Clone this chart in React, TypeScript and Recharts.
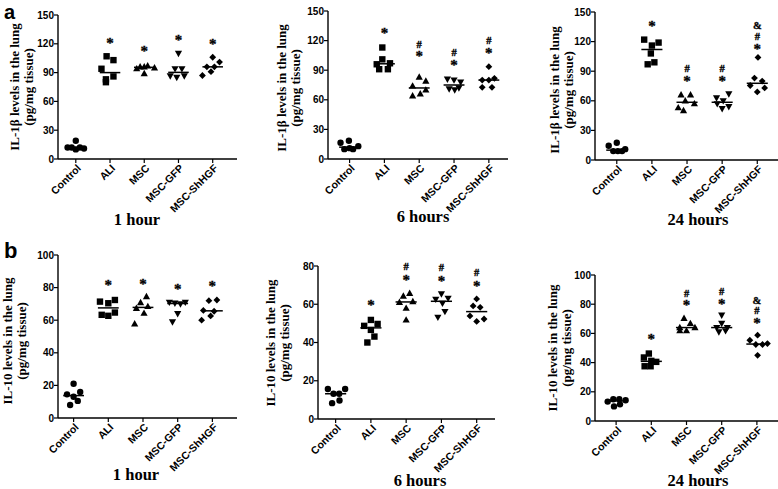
import React from "react";
import { ScatterChart, Scatter, XAxis, YAxis, ReferenceLine } from "recharts";

// ── data ─────────────────────────────────────────────────────────────

const groups = ["Control", "ALI", "MSC", "MSC-GFP", "MSC-ShHGF"];
const markers = ["circle", "square", "triangle", "triangleDown", "diamond"];

const il1bTicks = [0, 30, 60, 90, 120, 150];
const il10Ticks1h = [0, 20, 40, 60, 80, 100];
const il10Ticks6h = [0, 20, 40, 60, 80];
const il10Ticks24h = [0, 20, 40, 60, 80, 100];

// IL-1β (pg/mg tissue), 6 animals per group; dx = horizontal spread inside a group
const il1b1h = [
  [19, 12, 12, 10, 12, 11],
  [107, 103, 94, 86, 83, 80],
  [97, 96, 96, 95, 94, 89],
  [110, 94, 94, 86.5, 85, 86.5],
  [106, 101, 96, 96, 91, 87],
];
const il1b1hDx = [
  [0, -0.24, -0.12, 0, 0.12, 0.24],
  [-0.1, 0.1, -0.25, 0.1, -0.12, -0.12],
  [0.1, -0.12, 0, 0.3, -0.22, 0],
  [0, -0.1, 0.1, -0.24, -0.05, 0.17],
  [0, 0.2, -0.17, 0.05, -0.05, -0.3],
];
const il1b1hSig = [[1, 123, "*"], [2, 115, "*"], [3, 126, "*"], [4, 122, "*"]];

const il1b6h = [
  [16.5, 18.5, 10, 10, 13, 11],
  [113, 101, 96, 97, 91, 91],
  [83, 79, 74, 70, 66, 64],
  [81, 80, 78, 71, 72, 70],
  [93.6, 80, 80, 81.8, 72.6, 72.6],
];
const il1b6hDx = [
  [-0.26, -0.02, -0.15, 0.1, 0.25, 0],
  [-0.06, -0.06, -0.22, 0.16, -0.15, 0.1],
  [0, 0.19, -0.19, 0.19, 0.03, -0.19],
  [-0.19, 0, 0.19, -0.14, 0.14, 0.02],
  [0, -0.19, 0, 0.16, -0.19, 0.09],
];
const il1b6hSig = [
  [1, 130, "*"],
  [2, 117, "#"], [2, 106, "*"],
  [3, 108, "#"], [3, 97, "*"],
  [4, 121, "#"], [4, 109, "*"],
];

const il1b24h = [
  [14.5, 17.5, 9, 9, 9, 11],
  [122, 116, 119, 108, 97, 99],
  [66, 66, 60, 57, 53, 50],
  [63, 67, 60, 57, 52, 54],
  [104, 83, 80, 75.5, 73, 69],
];
const il1b24hDx = [
  [-0.23, 0, -0.1, 0.03, 0.15, 0.24],
  [-0.22, 0, 0.19, -0.03, -0.12, 0.07],
  [-0.17, 0.1, -0.05, 0.21, -0.25, -0.1],
  [-0.16, 0.19, 0.03, -0.14, 0, 0.19],
  [0.02, -0.08, 0.14, -0.2, 0.21, 0],
];
const il1b24hSig = [
  [1, 138, "*"],
  [2, 93, "#"], [2, 82, "*"],
  [3, 93, "#"], [3, 82, "*"],
  [4, 137, "&"], [4, 126, "#"], [4, 115, "*"],
];

// IL-10 (pg/mg tissue)
const il101h = [
  [21, 14.5, 16, 13, 10.5, 8],
  [71.4, 70.4, 72.4, 63.3, 62.7, 64.7],
  [74.5, 70.8, 68.4, 67.3, 64.3, 57.8],
  [71, 70.5, 70, 71, 64, 59],
  [72, 72.4, 66, 65.5, 62.6, 60],
];
const il101hDx = [
  [0, -0.19, 0.19, 0, 0.12, -0.1],
  [-0.24, 0, 0.19, -0.19, 0, 0.19],
  [0.1, -0.07, 0.14, -0.19, 0.03, -0.24],
  [-0.24, -0.08, 0.08, 0.22, 0, -0.15],
  [-0.1, 0.13, -0.26, 0.05, -0.05, -0.31],
];
const il101hSig = [[1, 83, "*"], [2, 83.7, "*"], [3, 80.6, "*"], [4, 82.2, "*"]];

const il106h = [
  [15.7, 15.7, 13.2, 13.2, 8.3, 9.7],
  [51.8, 49.7, 48.7, 46.6, 43.1, 40],
  [65.7, 64.3, 61, 61.4, 57.9, 51.8],
  [65.4, 62.6, 63.1, 60.5, 56.2, 53.2],
  [62.8, 59.1, 58.4, 53.9, 52.3, 51],
];
const il106hDx = [
  [-0.22, 0.27, -0.06, 0.1, -0.1, 0.11],
  [0, 0.19, -0.19, 0, 0.1, -0.1],
  [0.1, -0.08, -0.19, 0.19, 0, 0],
  [0, -0.16, 0.19, 0.03, 0.1, -0.1],
  [0, -0.1, 0.1, -0.19, 0.21, 0],
];
const il106hSig = [
  [1, 60.5, "*"],
  [2, 80, "#"], [2, 73.9, "*"],
  [3, 79.3, "#"], [3, 73, "*"],
  [4, 76.7, "#"], [4, 70.6, "*"],
];

const il1024h = [
  [13.3, 14.9, 14.9, 14.2, 10, 11.4],
  [43.5, 46.2, 41.2, 40.5, 37.5, 37.5],
  [70.3, 64, 66.8, 61.8, 61.8, 64],
  [72.5, 66.8, 64, 64, 61, 61.8],
  [58.8, 55.3, 52.4, 52.4, 53, 45],
];
const il1024hDx = [
  [-0.24, -0.08, 0.09, 0.27, -0.06, 0.11],
  [-0.21, -0.07, 0, 0.14, -0.19, -0.02],
  [-0.07, -0.19, 0.11, -0.19, 0, 0.24],
  [0, 0, -0.14, 0.16, -0.08, 0.11],
  [0.02, -0.2, -0.03, 0.16, 0.3, 0.02],
];
const il1024hSig = [
  [1, 57.2, "*"],
  [2, 88, "#"], [2, 80.5, "*"],
  [3, 89, "#"], [3, 81.7, "*"],
  [4, 82.8, "&"], [4, 76, "#"], [4, 68.6, "*"],
];

// ── helpers ─────────────────────────────────────────────────────────

const SANS = '"Liberation Sans", Arial, sans-serif';
const SERIF = '"Liberation Serif", "Times New Roman", serif';

function median(arr: number[]): number {
  const s = [...arr].sort((a, b) => a - b);
  const m = Math.floor(s.length / 2);
  return s.length % 2 ? s[m] : (s[m - 1] + s[m]) / 2;
}

function markerShape(kind: string) {
  return (p: any) => {
    const { cx, cy } = p;
    if (cx == null || cy == null) return <g />;
    if (kind === "circle") return <circle cx={cx} cy={cy} r={3.2} style={{ fill: "#000" }} />;
    if (kind === "square")
      return <rect x={cx - 3.2} y={cy - 3.2} width={6.4} height={6.4} style={{ fill: "#000" }} />;
    if (kind === "triangle")
      return (
        <polygon
          points={`${cx},${cy - 3.8} ${cx + 3.6},${cy + 2.6} ${cx - 3.6},${cy + 2.6}`}
          style={{ fill: "#000" }}
        />
      );
    if (kind === "triangleDown")
      return (
        <polygon
          points={`${cx},${cy + 3.8} ${cx + 3.6},${cy - 2.6} ${cx - 3.6},${cy - 2.6}`}
          style={{ fill: "#000" }}
        />
      );
    return (
      <polygon
        points={`${cx},${cy - 3.4} ${cx + 3.4},${cy} ${cx},${cy + 3.4} ${cx - 3.4},${cy}`}
        style={{ fill: "#000" }}
      />
    );
  };
}

function sigShape(p: any) {
  const { cx, cy, payload } = p;
  if (cx == null || cy == null) return <g />;
  const star = payload.t === "*";
  return (
    <text
      x={cx}
      y={cy + (star ? 7 : 4)}
      textAnchor="middle"
      fontFamily={SERIF}
      fontSize={star ? 15 : 10.5}
      fontWeight={700}
      style={{ fill: "#000", stroke: "#000", strokeWidth: 0.35 }}
    >
      {payload.t}
    </text>
  );
}

function XTick(p: any) {
  const { x, y, payload } = p;
  return (
    <g transform={`translate(${x + 3},${y + 1})`}>
      <text
        x={0}
        y={0}
        dy={4}
        textAnchor="end"
        transform="rotate(-45)"
        fontFamily={SANS}
        fontWeight={700}
        fontSize={10.5}
        style={{ fill: "#000" }}
      >
        {groups[payload.value]}
      </text>
    </g>
  );
}

function YTick(p: any) {
  const { x, y, payload } = p;
  return (
    <text
      x={x + 2}
      y={y}
      dy={3.5}
      textAnchor="end"
      fontFamily={SANS}
      fontWeight={700}
      fontSize={10}
      style={{ fill: "#000" }}
    >
      {payload.value}
    </text>
  );
}

type PanelProps = {
  values: number[][];
  dx: number[][];
  sig: (number | string)[][];
  yTicks: number[];
  xDomain: [number, number];
  plot: { x0: number; x1: number; y0: number; y1: number };
  yLabel: string;
  yLabelAt: [number, number];
};

function Panel({ values, dx, sig, yTicks, xDomain, plot, yLabel, yLabelAt }: PanelProps) {
  const left = 50;
  const top = 20;
  const bottom = 70;
  const w = plot.x1 - plot.x0 + left + 2;
  const h = plot.y1 - plot.y0 + top + bottom;
  const sigData = sig.map((s) => ({ x: s[0] as number, y: s[1] as number, t: s[2] as string }));
  const axisLine = { stroke: "#000", strokeWidth: 1.4 };

  return (
    <>
      <div style={{ position: "absolute", left: plot.x0 - left, top: plot.y0 - top }}>
        <ScatterChart width={w} height={h} margin={{ top, right: 2, left: 0, bottom: 0 }}>
          <XAxis
            type="number"
            dataKey="x"
            domain={xDomain}
            ticks={[0, 1, 2, 3, 4]}
            interval={0}
            height={bottom}
            axisLine={axisLine}
            tickLine={{ stroke: "#000", strokeWidth: 1.2 }}
            tickSize={4}
            tick={<XTick />}
          />
          <YAxis
            type="number"
            dataKey="y"
            domain={[0, yTicks[yTicks.length - 1]]}
            ticks={yTicks}
            interval={0}
            width={left}
            axisLine={axisLine}
            tickLine={{ stroke: "#000", strokeWidth: 1.2 }}
            tickSize={4}
            tick={<YTick />}
          />
          {values.map((vals, g) => (
            <Scatter
              key={groups[g]}
              data={vals.map((v, i) => ({ x: g + dx[g][i], y: v }))}
              fill="#000"
              shape={markerShape(markers[g])}
              isAnimationActive={false}
            />
          ))}
          {values.map((vals, g) => (
            <ReferenceLine
              key={"m" + g}
              segment={[
                { x: g - 0.3, y: median(vals) },
                { x: g + 0.3, y: median(vals) },
              ]}
              stroke="#000"
              strokeWidth={1.5}
              ifOverflow="visible"
            />
          ))}
          <Scatter data={sigData} fill="#000" shape={sigShape} isAnimationActive={false} />
        </ScatterChart>
      </div>

      {/* y-axis title */}
      <div
        style={{
          position: "absolute",
          left: yLabelAt[0],
          top: yLabelAt[1],
          transform: "translate(-50%, -50%) rotate(-90deg)",
          whiteSpace: "nowrap",
          textAlign: "center",
          fontFamily: SERIF,
          fontWeight: 700,
          fontSize: 13,
          lineHeight: "14px",
        }}
      >
        <div>{yLabel}</div>
        <div>(pg/mg tissue)</div>
      </div>
    </>
  );
}

// time-point captions: [text, x, baseline]
const captions: [string, number, number][] = [
  ["1 hour", 137, 225],
  ["6 hours", 423, 222],
  ["24 hours", 698, 225],
  ["1 hour", 136, 480],
  ["6 hours", 420, 486],
  ["24 hours", 698, 486],
];

export default function App() {
  return (
    <div
      style={{
        position: "absolute",
        left: 0,
        top: 0,
        width: 778,
        height: 489,
        background: "#fff",
        overflow: "hidden",
      }}
    >
      <Panel
        values={il1b1h} dx={il1b1hDx} sig={il1b1hSig} yTicks={il1bTicks} xDomain={[-0.52, 4.71]}
        plot={{ x0: 58, x1: 237, y0: 15, y1: 159 }}
        yLabel="IL-1β levels in the lung" yLabelAt={[21.5, 87]}
      />
      <Panel
        values={il1b6h} dx={il1b6hDx} sig={il1b6hSig} yTicks={il1bTicks} xDomain={[-0.62, 4.55]}
        plot={{ x0: 328, x1: 508, y0: 11, y1: 159 }}
        yLabel="IL-1β levels in the lung" yLabelAt={[289, 88]}
      />
      <Panel
        values={il1b24h} dx={il1b24hDx} sig={il1b24hSig} yTicks={il1bTicks} xDomain={[-0.62, 4.59]}
        plot={{ x0: 595, x1: 778, y0: 12, y1: 160 }}
        yLabel="IL-1β levels in the lung" yLabelAt={[562, 90]}
      />
      <Panel
        values={il101h} dx={il101hDx} sig={il101hSig} yTicks={il10Ticks1h} xDomain={[-0.45, 4.71]}
        plot={{ x0: 58, x1: 237, y0: 255, y1: 418 }}
        yLabel="IL-10 levels in the lung" yLabelAt={[15, 341]}
      />
      <Panel
        values={il106h} dx={il106hDx} sig={il106hSig} yTicks={il10Ticks6h} xDomain={[-0.5, 4.52]}
        plot={{ x0: 318, x1: 495, y0: 266, y1: 419 }}
        yLabel="IL-10 levels in the lung" yLabelAt={[277.5, 343]}
      />
      <Panel
        values={il1024h} dx={il1024hDx} sig={il1024hSig} yTicks={il10Ticks24h} xDomain={[-0.6, 4.6]}
        plot={{ x0: 595, x1: 778, y0: 275, y1: 421 }}
        yLabel="IL-10 levels in the lung" yLabelAt={[560, 348]}
      />

      <svg
        width={778}
        height={489}
        style={{ position: "absolute", left: 0, top: 0, pointerEvents: "none" }}
      >
        <text x={4} y={18.5} fontFamily={SANS} fontWeight={700} fontSize={20} fill="#000">a</text>
        <text x={4} y={258} fontFamily={SANS} fontWeight={700} fontSize={22} fill="#000">b</text>
        {captions.map(([t, x, y], i) => (
          <text
            key={i}
            x={x}
            y={y}
            textAnchor="middle"
            fontFamily={SERIF}
            fontWeight={700}
            fontSize={16.5}
            fill="#000"
          >
            {t}
          </text>
        ))}
      </svg>
    </div>
  );
}
